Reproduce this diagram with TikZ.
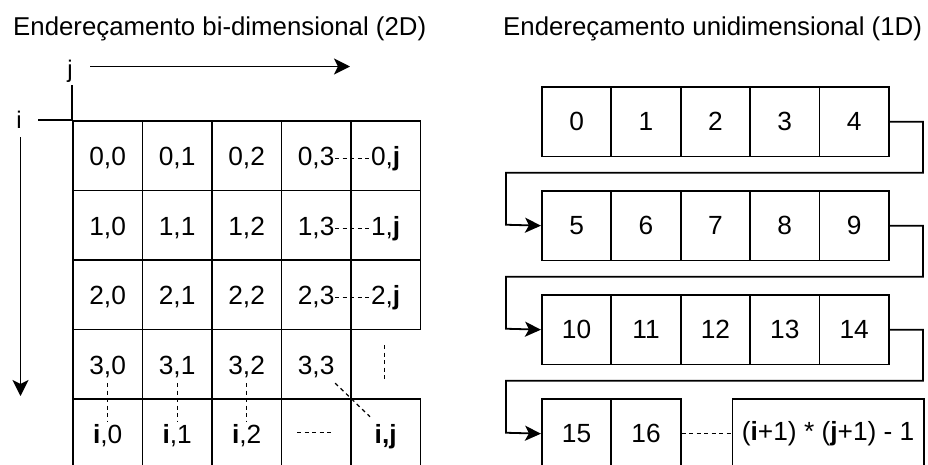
\documentclass[tikz,border=0pt]{standalone}
\usepackage{fontspec}
\setmainfont{Liberation Sans}
\usetikzlibrary{arrows.meta}
\newcommand\celfont{\fontsize{26.3pt}{31pt}\selectfont}
\newcommand\ttlfont{\fontsize{25.8pt}{31pt}\selectfont}
\newcommand\axfont{\fontsize{24pt}{28pt}\selectfont}
\begin{document}
\begin{tikzpicture}[x=1pt,y=-1pt,
  cellbox/.style={draw, line width=1.8pt, minimum width=69.5pt, minimum height=69.5pt,
                  inner sep=0pt, anchor=north west},
  lincell/.style={draw, line width=1.8pt, minimum width=69.4pt, minimum height=69.5pt,
                  inner sep=0pt, anchor=north west, font=\celfont},
  celltext/.style={font=\celfont, text height=18.5pt, text depth=4pt,
                   inner xsep=0.5pt, inner ysep=4.5pt, anchor=base},
  title/.style={font=\ttlfont, anchor=base west, inner sep=0pt},
  axis/.style={line width=1.8pt},
  axarrow/.style={line width=1.8pt, -{Stealth[length=16pt, width=16pt, inset=4pt]}},
  flow/.style={line width=1.8pt, -{Stealth[length=16pt, width=15pt, inset=4pt]}},
  dotted link/.style={line width=1.2pt, dash pattern=on 4pt off 3.5pt},
]
\useasboundingbox (0,0) rectangle (928,464);

% headings
\node[title] (t2d) at (13,35) {Endereçamento bi-dimensional (2D)};
\node[title] (t1d) at (503,35) {Endereçamento unidimensional (1D)};

% ---------- two-dimensional grid ----------
\foreach \r in {0,1,2}{
  \foreach \k/\txt in {0/0,1/1,2/2,3/3,4/\textbf{j}}{
    \node[cellbox] (c-\r-\k) at ({72+69.5*\k},{120+69.5*\r}) {};
    \node[celltext] (t-\r-\k) at ([yshift=-10.3pt]c-\r-\k.center) {\r,\txt};
  }
}
\foreach \k in {0,1,2,3}{
  \node[cellbox] (c-3-\k) at ({72+69.5*\k},{120+69.5*3}) {};
  \node[celltext] (t-3-\k) at ([yshift=-10.3pt]c-3-\k.center) {3,\k};
}
\foreach \k in {0,...,4}{
  \node[cellbox] (c-4-\k) at ({72+69.5*\k},{120+69.5*4}) {};
}
\node[celltext] (t-4-0) at ([yshift=-10.3pt]c-4-0.center) {\textbf{i},0};
\node[celltext] (t-4-1) at ([yshift=-10.3pt]c-4-1.center) {\textbf{i},1};
\node[celltext] (t-4-2) at ([yshift=-10.3pt]c-4-2.center) {\textbf{i},2};
\node[celltext] (t-4-4) at ([yshift=-10.3pt]c-4-4.center) {\textbf{i,j}};

% elided entries
\foreach \r in {0,1,2}{
  \draw[dotted link] (t-\r-3.east) -- (t-\r-4.west);
}
\foreach \k in {0,1,2}{
  \draw[dotted link] (t-3-\k.south) -- (t-4-\k.north);
}
\draw[dotted link] (t-3-3.south east) -- ([xshift=-4pt,yshift=4pt]t-4-4.north west);
\coordinate (vdotsTop) at (384.5,345);
\coordinate (vdotsBot) at (384.5,381);
\draw[dotted link] (vdotsTop) -- (vdotsBot);
\coordinate (hdotsL) at (297,432.5);
\coordinate (hdotsR) at (333,432.5);
\draw[dotted link] (hdotsL) -- (hdotsR);

% axes
\node[font=\axfont, inner sep=0pt] (lj) at (70,71) {j};
\node[font=\axfont, inner sep=0pt] (li) at (19,120) {i};
\coordinate (jstub) at (72,85);
\coordinate (istub) at (38,120);
\draw[axis] (jstub) -- (c-0-0.north west);
\draw[axis] (istub) -- (c-0-0.north west);
\coordinate (jaxA) at (90,66.5);
\coordinate (jaxB) at (350,66.5);
\draw[axarrow] (jaxA) -- (jaxB);
\coordinate (iaxA) at (20.5,137);
\coordinate (iaxB) at (20.5,396);
\draw[axarrow] (iaxA) -- (iaxB);

% ---------- one-dimensional array ----------
\foreach \n in {0,...,14}{
  \pgfmathtruncatemacro\rw{int(\n/5)}
  \pgfmathtruncatemacro\cl{\n-5*\rw}
  \node[lincell] (b\n) at ({541+69.4*\cl},{86+104*\rw}) {\n};
}
\node[lincell] (b15) at (541,398) {15};
\node[lincell] (b16) at (610.4,398) {16};
\node[lincell, minimum width=191.5pt] (blast) at (731.5,398)
  {(\textbf{i}+1) * (\textbf{j}+1) - 1};
\draw[dotted link] (b16.east) -- (blast.west);

% wrap-around links between rows
\coordinate (r1) at (923,172.75);
\coordinate (l1) at (506,224.75);
\coordinate (r2) at (923,276.75);
\coordinate (l2) at (506,328.75);
\coordinate (r3) at (923,380.75);
\coordinate (l3) at (506,432.75);
\draw[flow] (b4.east) -| (r1) -| (l1) -- (b5.west);
\draw[flow] (b9.east) -| (r2) -| (l2) -- (b10.west);
\draw[flow] (b14.east) -| (r3) -| (l3) -- (b15.west);
\end{tikzpicture}
\end{document}
